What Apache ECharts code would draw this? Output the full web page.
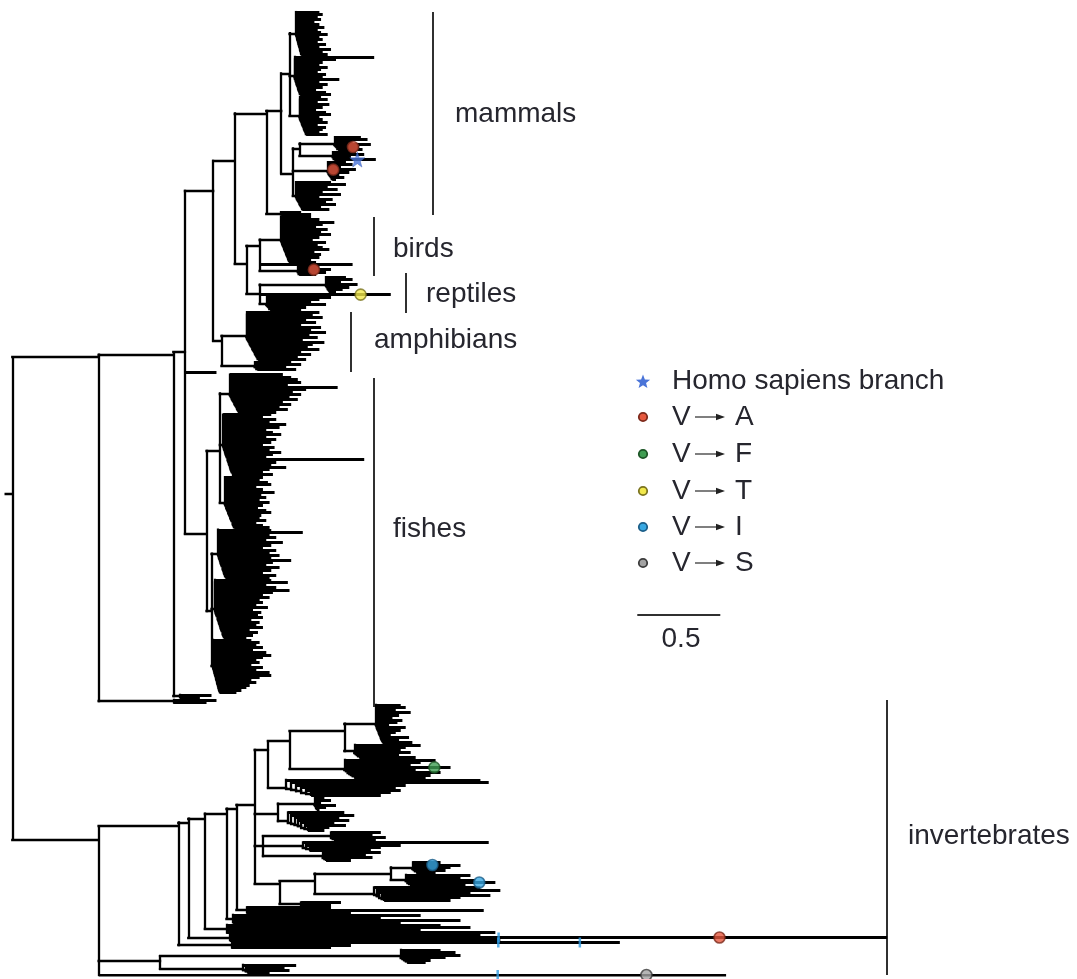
<!DOCTYPE html>
<html>
<head>
<meta charset="utf-8">
<script src="https://cdn.jsdelivr.net/npm/echarts/dist/echarts.min.js"></script>
<style>
  html, body { margin: 0; padding: 0; background: #fff; }
  #chart { width: 1077px; height: 979px; }
</style>
</head>
<body>
<div id="chart"></div>
<script>
// ---------------------------------------------------------------------------
// Tree description.  Branch lengths are in hundredths of substitutions/site.
//   N(len, ...children)  internal node with the branch leading to it
//   a plain number       a tip branch
//   mk(len, type, f...)  a tip branch carrying substitutions at fraction f
//   comb(len, step, ends) a ladder-shaped clade; ends are root-to-tip depths
//                         measured from the ladder's base node
// ---------------------------------------------------------------------------
function N(len, ...kids) { return [len, ...kids]; }
function mk(len, ...pairs) {
  const marks = [];
  for (let i = 0; i < pairs.length; i += 2) marks.push([pairs[i], pairs[i + 1]]);
  return { len, marks };
}
function tipFrom(end, off) {
  if (typeof end === 'number') return end - off;
  return { len: end.len - off, marks: end.marks };
}
function comb(len, step, ends) {
  let sub = null;
  for (let k = ends.length - 2; k >= 0; k--) {
    const off = k * step;
    const kids = sub ? [tipFrom(ends[k], off), sub]
                     : [tipFrom(ends[k], off), tipFrom(ends[k + 1], off)];
    sub = [k === 0 ? len : step, ...kids];
  }
  return sub;
}

// ----- mammals -------------------------------------------------------------
const mammals = N(19,
  N(9,
    N(5,
      comb(4, 0.2, [14,16,13,15,11,14,17,13,15,19,14,16,13,18,14,21,16,19]),
      comb(3, 0.25, [48,25,17,15,20,16,14,19,17,27,15,20,17,13,19,22]),
      comb(6, 0.3, [13,17,11,18,14,10,16,19,12,14,17,11,16,14,12,17])
    ),
    N(7,
      N(4,
        comb(21, 0.6, [16,20,11,22,mk(15,'A',0.7),17]),
        comb(20, 0.6, [14,19,11,mk(26,'star',0.55)])
      ),
      comb(21, 0.5, [11,15,8,mk(17,'A',0.12),13,7,10,5]),
      comb(2, 0.4, [21,30,19,25,16,27,14,22,18,24,15,20])
    )
  ),
  N(9, 12, 18)
);

// ----- birds ----------------------------------------------------------------
const birds = N(8,
  comb(13, 0.3, [18,23,32,25,21,28,24,30,23,19,27,22,25,29,20,24,23,18,21]),
  56,
  comb(23, 0.5, [13,mk(20,'A',0.47),17,11])
);

// ----- reptiles -------------------------------------------------------------
const reptiles = N(8,
  comb(40, 0.5, [12,16,9,19,14,10,6]),
  mk(79, 'T', 0.77),
  comb(4, 0.6, [39,32,27,36,24,21])
);

// ----- amphibians -----------------------------------------------------------
const amphibians = N(5,
  comb(15, 0.4, [44,40,46,36,42,33,45,39,48,38,43,34,47,40,37,44,33,39,31,36]),
  comb(20, 1, [22,28,19,25])
);

// ----- fishes ---------------------------------------------------------------
const fishes = N(13,
  N(8,
    comb(6, 0.4, [32,37,41,43,35,65,46,38,43,36,41,32,37,30,35,28]),
    comb(2, 0.25, [29,24,32,28,38,34,26,30,35,26,32,29,24,31,28,35,30,26,85,32,29,38,28,24,30]),
    comb(3, 0.3, [23,21,26,28,19,23,30,22,25,21,27,23,20,25,28,22,21,25,19,23,27])
  ),
  N(3,
    comb(4, 0.25, [32,51,31,35,29,39,32,27,35,31,37,32,44,33,29,37,32,27,35,31]),
    comb(2, 0.25, [34,44,31,37,45,35,29,33,27,29,25,32,23,28,26,29,22,27,25,29,21,26,23,19]),
    comb(1, 0.2, [23,28,26,30,24,32,35,30,26,28,23,30,26,34,35,28,23,26,22,20,17,14])
  )
);

// ----- vertebrate backbone --------------------------------------------------
const tetrapods = N(17, N(13, mammals, N(7, birds, reptiles)), amphibians);
const vertebrates = N(52,
  N(45,
    N(7, tetrapods, 19, fishes),
    N(4, 19, 12)
  ),
  N(45, 26, 20)
);

// ----- invertebrates --------------------------------------------------------
const invTop = N(8,
  N(13,
    N(33,
      comb(19, 0.3, [15,18,12,21,14,10,16,13,8,18,15,12,9,20,14,22]),
      comb(6, 0.8, [40,31,28,34,27,37])
    ),
    comb(33, 1, [55,46,40,mk(64,'F',0.84),43,58,52,49])
  ),
  comb(11, 3, [117,122,72,66,69,63,57])
);
const invMid1 = N(14,
  comb(22, 0.5, [6,10,4,13,7,3]),
  comb(6, 2, [34,40,31,37,28,35,25,22])
);
const invMid2 = N(5,
  comb(41, 1, [30,25,33,27]),
  comb(24, 2, [112,59,47,41]),
  comb(36, 1, [35,26,30,17])
);
const invIso = N(15,
  N(21,
    N(46,
      comb(13, 0.8, [17,mk(29,'I',0.4),23,20,14]),
      comb(9, 1, [39,33,42,mk(54,'I',0.81),36])
    ),
    comb(36, 1.5, [64,76,58,70,52,46])
  ),
  N(13, 24, 18)
);
const invBase = [
  N(6, 51, 143, 63),
  N(4, 113, 89, 137, 101),
  N(13, 129, 147, 117, 162),
  N(25, 151, mk(396,'tick',0.409,'A',0.745), 163),
  N(32, mk(234,'tick',0.687,'tick',0.897), 72, 60)
];
const invBackbone = [48, 6, 10, 13, 6, 11];
const invertebrates = (function () {
  let sub = N(invBackbone[5], invTop, invMid1, invMid2, invIso);
  for (let k = 4; k >= 0; k--) sub = N(invBackbone[k], sub, invBase[4 - k]);
  return N(52,
    sub,
    N(37, comb(145, 1, [24,33,36,27,18,15]), comb(50, 1.5, [32,25,28,16])),
    mk(378, 'tick', 0.636, 'S', 0.873)
  );
})();

const treeRoot = N(4, vertebrates, invertebrates);

// ----- annotations ----------------------------------------------------------
const cladeBars = [
  { name: 'mammals',       x: 433, y1: 12,  y2: 215, tx: 455, ty: 114 },
  { name: 'birds',         x: 374, y1: 217, y2: 276, tx: 393, ty: 249 },
  { name: 'reptiles',      x: 406, y1: 273, y2: 313, tx: 426, ty: 294 },
  { name: 'amphibians',    x: 351, y1: 312, y2: 372, tx: 374, ty: 340 },
  { name: 'fishes',        x: 374, y1: 378, y2: 707, tx: 393, ty: 529 },
  { name: 'invertebrates', x: 887, y1: 700, y2: 975, tx: 908, ty: 836 }
];
const legendRows = [
  { key: 'star', label: 'Homo sapiens branch' },
  { key: 'A', from: 'V', to: 'A' },
  { key: 'F', from: 'V', to: 'F' },
  { key: 'T', from: 'V', to: 'T' },
  { key: 'I', from: 'V', to: 'I' },
  { key: 'S', from: 'V', to: 'S' }
];
const scaleBarLength = 0.5;

const markStyle = {
  A: { fill: '#e6583e', stroke: '#7c2a1c' },
  F: { fill: '#3f9d52', stroke: '#1d5526' },
  T: { fill: '#f1e84c', stroke: '#7b7420' },
  I: { fill: '#38a8e2', stroke: '#1c5e88' },
  S: { fill: '#a3a3a3', stroke: '#3c3c3c' },
  star: { fill: '#4a74d8', stroke: '#3358b8' },
  tick: { fill: '#2f9be2', stroke: '#2f9be2' }
};
const STAR_PATH = 'path://M0,-10L2.35,-3.24L9.51,-3.09L3.8,1.24L5.88,8.09L0,4L-5.88,8.09L-3.8,1.24L-9.51,-3.09L-2.35,-3.24Z';

// ---------------------------------------------------------------------------
// Rectangular phylogram layout: tips are stacked one per row, each internal
// node sits midway between its first and last descendant tip.
// ---------------------------------------------------------------------------
const UNIT = 100;
const tipSegments = [];
const innerSegments = [];
const marks = [];
let tipCount = 0;
function lay(nd, x0) {
  if (!Array.isArray(nd)) {
    const len = typeof nd === 'number' ? nd : nd.len;
    const y = tipCount++;
    tipSegments.push([[x0 / UNIT, y], [(x0 + len) / UNIT, y]]);
    if (nd.marks) nd.marks.forEach(([type, f]) => marks.push({ type, x: (x0 + f * len) / UNIT, y }));
    return { y, first: y, last: y };
  }
  const [len, ...kids] = nd;
  const x1 = x0 + len;
  const res = kids.map(k => lay(k, x1));
  const first = res[0].first, last = res[res.length - 1].last;
  const y = (first + last) / 2;
  innerSegments.push([[x0 / UNIT, y], [x1 / UNIT, y]]);
  innerSegments.push([[x1 / UNIT, res[0].y], [x1 / UNIT, res[res.length - 1].y]]);
  return { y, first, last };
}
lay(treeRoot, -treeRoot[0]);
const lastTip = tipCount - 1;

// ---------------------------------------------------------------------------
const markData = marks.map(m => {
  const st = markStyle[m.type];
  let symbol = 'circle', size = 11, bw = 1.6;
  if (m.type === 'star') { symbol = STAR_PATH; size = 15; bw = 0.5; }
  if (m.type === 'tick') { symbol = 'rect'; size = [2.5, 10]; bw = 0; }
  return {
    value: [m.x, m.y],
    symbol, symbolSize: size,
    itemStyle: { color: st.fill, borderColor: st.stroke, borderWidth: bw }
  };
});

const FONT = '"Liberation Sans", Arial, sans-serif';
const TEXT_COLOR = '#26262e';
const graphics = [];
cladeBars.forEach(c => {
  graphics.push({ type: 'line', shape: { x1: c.x, y1: c.y1, x2: c.x, y2: c.y2 },
    style: { stroke: '#303030', lineWidth: 2 }, silent: true });
  graphics.push({ type: 'text', x: c.tx, y: c.ty,
    style: { text: c.name, font: '28px ' + FONT, fill: TEXT_COLOR, verticalAlign: 'middle', align: 'left' },
    silent: true });
});

const legendY = [381, 417, 454, 491, 527, 563];
const LEG_SYM_X = 643, LEG_TXT_X = 672;
legendRows.forEach((row, i) => {
  const y = legendY[i];
  const st = markStyle[row.key];
  if (row.key === 'star') {
    const pts = [];
    for (let k = 0; k < 10; k++) {
      const r = k % 2 === 0 ? 7.5 : 3.2;
      const a = -Math.PI / 2 + k * Math.PI / 5;
      pts.push([LEG_SYM_X + r * Math.cos(a), y + 1 + r * Math.sin(a)]);
    }
    graphics.push({ type: 'polygon', shape: { points: pts }, style: { fill: st.fill }, silent: true });
    graphics.push({ type: 'text', x: LEG_TXT_X, y,
      style: { text: row.label, font: '28px ' + FONT, fill: TEXT_COLOR, verticalAlign: 'middle' }, silent: true });
  } else {
    graphics.push({ type: 'circle', shape: { cx: LEG_SYM_X, cy: y, r: 4.2 },
      style: { fill: st.fill, stroke: st.stroke, lineWidth: 1.8 }, silent: true });
    graphics.push({ type: 'text', x: LEG_TXT_X, y,
      style: { text: row.from, font: '28px ' + FONT, fill: TEXT_COLOR, verticalAlign: 'middle' }, silent: true });
    graphics.push({ type: 'line', shape: { x1: 695, y1: y, x2: 718, y2: y },
      style: { stroke: '#3a3a3a', lineWidth: 1.3 }, silent: true });
    graphics.push({ type: 'polygon', shape: { points: [[716, y - 3.2], [725, y], [716, y + 3.2]] },
      style: { fill: '#222' }, silent: true });
    graphics.push({ type: 'text', x: 735, y,
      style: { text: row.to, font: '28px ' + FONT, fill: TEXT_COLOR, verticalAlign: 'middle' }, silent: true });
  }
});

// scale bar, positioned in tree coordinates (x in subs/site, y in tip rows)
const scaleBarStart = [3.765, 240.8];
graphics.push({ type: 'text', x: 681, y: 639,
  style: { text: String(scaleBarLength), font: '28px ' + FONT, fill: TEXT_COLOR, verticalAlign: 'middle', align: 'center' },
  silent: true });

const chart = echarts.init(document.getElementById('chart'), null, { renderer: 'canvas' });
chart.setOption({
  animation: false,
  backgroundColor: '#ffffff',
  grid: { left: 4, top: 12, width: 6.05 * 166, height: 963 },
  xAxis: { type: 'value', min: -0.05, max: 6.0, show: false },
  yAxis: { type: 'value', min: 0, max: lastTip, inverse: true, show: false },
  series: [
    {
      type: 'lines', coordinateSystem: 'cartesian2d', polyline: false, silent: true,
      data: innerSegments.map(s => ({ coords: s })),
      lineStyle: { color: '#000000', width: 2.3, opacity: 1, cap: 'square' },
      z: 2
    },
    {
      type: 'lines', coordinateSystem: 'cartesian2d', polyline: false, silent: true,
      data: tipSegments.map(s => ({ coords: s })),
      lineStyle: { color: '#000000', width: 3.0, opacity: 1, cap: 'butt' },
      z: 2
    },
    {
      type: 'lines', coordinateSystem: 'cartesian2d', polyline: false, silent: true,
      data: [{ coords: [scaleBarStart, [scaleBarStart[0] + scaleBarLength, scaleBarStart[1]]] }],
      lineStyle: { color: '#303030', width: 2, opacity: 1 },
      z: 2
    },
    {
      type: 'scatter', coordinateSystem: 'cartesian2d', silent: true,
      data: markData, z: 5
    }
  ],
  graphic: graphics
});
</script>
</body>
</html>
